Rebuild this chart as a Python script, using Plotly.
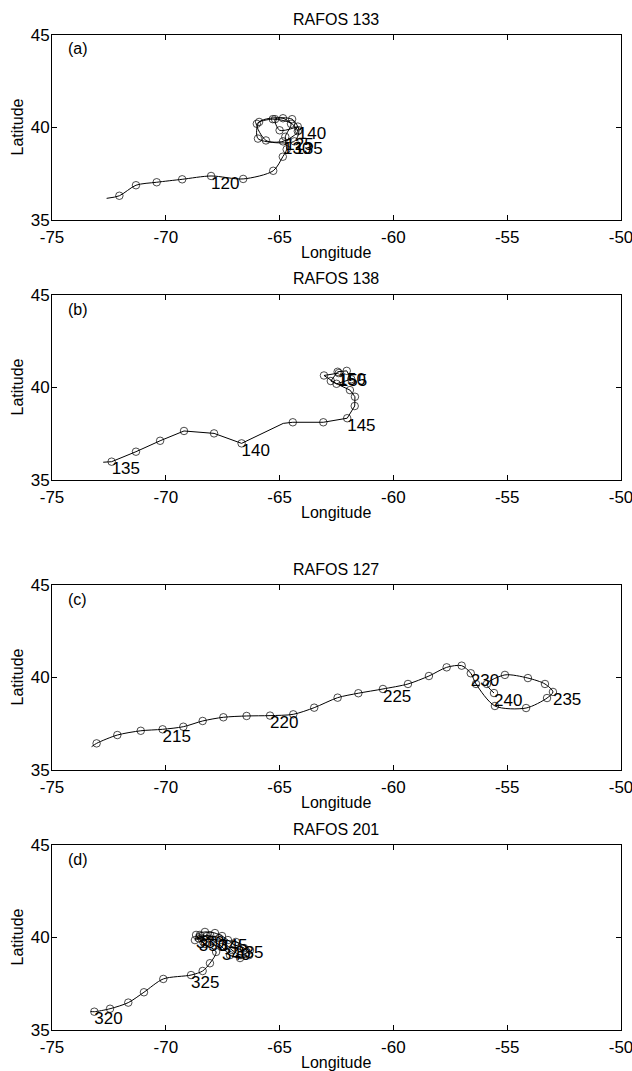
import plotly.graph_objects as go

W, H = 632, 1071
FONT = "Liberation Sans, Arial, Helvetica, sans-serif"

# ---------------- data (lon, lat, day; None = track vertex without a fix) -------------
titles = ["RAFOS 133", "RAFOS 138", "RAFOS 127", "RAFOS 201"]
panel_tags = ["(a)", "(b)", "(c)", "(d)"]

a_lon = [-72.60, -72.04, -71.31, -70.40, -69.28, -68.01, -66.60, -65.28, -64.86, -64.69,
         -64.75, -64.50, -65.30, -66.00, -65.60, -64.85, -64.20, -64.85, -65.90, -65.95,
         -64.35, -64.15, -64.45, -65.20, -65.00, -64.20]
a_lat = [36.17, 36.31, 36.88, 37.04, 37.20, 37.38, 37.22, 37.66, 38.42, 38.82,
         39.50, 40.20, 40.45, 40.20, 39.30, 39.25, 39.80, 40.50, 40.30, 39.40,
         39.25, 39.85, 40.45, 40.45, 39.85, 40.05]
a_day = [None, 116, 117, 118, 119, 120, 121, 122, 123, 124,
         125, 126, 127, 128, 129, 130, 131, 132, 133, 134,
         135, 136, 137, 138, 139, 140]

b_lon = [-72.75, -72.38, -71.31, -70.25, -69.20, -67.88, -66.67, -64.84, -64.42, -63.08,
         -62.03, -61.70, -61.69, -61.91, -62.75, -62.45, -62.05, -61.85, -62.50, -63.05,
         -62.40]
b_lat = [35.96, 35.99, 36.53, 37.12, 37.65, 37.52, 36.98, 38.06, 38.12, 38.12,
         38.34, 39.00, 39.50, 39.86, 40.35, 40.85, 40.90, 40.45, 40.20, 40.65,
         40.78]
b_day = [None, 135, 136, 137, 138, 139, 140, None, 143, 144,
         145, 146, 147, 148, 149, 150, 151, 152, 153, 154,
         155]

c_lon = [-73.26, -73.04, -72.13, -71.10, -70.14, -69.23, -68.38, -67.47, -66.45, -65.42,
         -64.40, -63.48, -62.45, -61.54, -60.46, -59.36, -58.44, -57.66, -57.00, -56.60,
         -56.37, -55.54, -54.17, -53.25, -52.99, -53.34, -54.09, -55.10, -55.89, -55.58]
c_lat = [36.26, 36.44, 36.89, 37.12, 37.20, 37.34, 37.65, 37.85, 37.92, 37.94,
         38.01, 38.37, 38.91, 39.15, 39.38, 39.65, 40.08, 40.55, 40.64, 40.23,
         39.65, 38.46, 38.35, 38.89, 39.22, 39.65, 39.97, 40.14, 39.65, 39.16]
c_day = [None, 212, 213, 214, 215, 216, 217, 218, 219, 220,
         221, 222, 223, 224, 225, 226, 227, 228, 229, 230,
         231, 232, 233, 234, 235, 236, 237, 238, 239, 240]

d_lon = [-73.30, -73.14, -72.45, -71.65, -70.96, -70.11, -68.89, -68.38, -68.06, -67.79,
         -68.28, -68.67, -68.28, -67.84, -67.53, -67.27, -66.96, -66.56, -66.34, -66.74,
         -67.18, -67.53, -67.97, -68.50, -68.72, -68.19, -67.66, -67.09, -66.70, -66.30,
         -66.92, -68.55, -68.05, -68.35]
d_lat = [36.00, 35.99, 36.15, 36.48, 37.04, 37.76, 37.97, 38.19, 38.61, 39.22,
         39.65, 40.14, 40.30, 40.24, 40.08, 39.86, 39.59, 39.43, 39.05, 38.89,
         39.05, 39.49, 39.86, 40.14, 39.86, 40.08, 39.97, 39.32, 39.05, 39.32,
         39.76, 39.95, 40.12, 39.75]
d_day = [None, 320, 321, 322, 323, 324, 325, 326, 327, 328,
         329, 330, 331, 332, 333, 334, 335, 336, 337, 338,
         339, 340, 341, 342, 343, 344, 345, 346, 347, 348,
         349, 350, 351, 352]

x_ticks = [-75, -70, -65, -60, -55, -50]
y_ticks = [35, 40, 45]

panels = [(a_lon, a_lat, a_day, "spline"),
          (b_lon, b_lat, b_day, "linear"),
          (c_lon, c_lat, c_day, "spline"),
          (d_lon, d_lat, d_day, "spline")]

# ---------------- layout geometry (pixels) ----------------
px_left, px_right = 52, 621
tops = [35, 295, 585, 845]
bottoms = [220, 480, 770, 1030]
LBL = 17     # tick / data label font size
TXT = 16     # titles and axis titles


def py(p):
    return 1 - p / H


def pxx(p):
    return p / W


fig = go.Figure()
layout = dict(width=W, height=H, margin=dict(l=0, r=0, t=0, b=0, pad=0, autoexpand=False),
              paper_bgcolor="white", plot_bgcolor="white", showlegend=False,
              font=dict(family=FONT, size=LBL, color="black"))
annotations = []

for i, (lon, lat, day, shape) in enumerate(panels):
    n = "" if i == 0 else str(i + 1)
    xa, ya = "x" + n, "y" + n
    sizes = [7.5 if d is not None else 0 for d in day]
    line = dict(color="black", width=1, shape=shape)
    if shape == "spline":
        line["smoothing"] = 0.8
    fig.add_trace(go.Scatter(x=lon, y=lat, mode="lines+markers", line=line,
                             marker=dict(symbol="circle-open", size=sizes, color="black",
                                         line=dict(width=1, color="black")),
                             xaxis=xa, yaxis=ya, hoverinfo="skip", cliponaxis=False))
    lx = [lon[k] for k in range(len(day)) if day[k] is not None and day[k] % 5 == 0]
    ly = [lat[k] for k in range(len(day)) if day[k] is not None and day[k] % 5 == 0]
    lt = [str(day[k]) for k in range(len(day)) if day[k] is not None and day[k] % 5 == 0]
    fig.add_trace(go.Scatter(x=lx, y=ly, mode="text", text=lt, textposition="bottom right",
                             textfont=dict(family=FONT, size=LBL, color="black"),
                             xaxis=xa, yaxis=ya, hoverinfo="skip", cliponaxis=False))

    axis_common = dict(showline=True, linecolor="black", linewidth=1, mirror="ticks",
                       ticks="inside", ticklen=5, tickcolor="black", showgrid=False,
                       zeroline=False, automargin=False, ticklabeloverflow="allow",
                       tickfont=dict(family=FONT, size=LBL, color="black"))
    layout["xaxis" + n] = dict(axis_common, range=[-75, -50], tickvals=x_ticks,
                               ticktext=[str(v) for v in x_ticks], ticklabelstandoff=2,
                               domain=[pxx(px_left), pxx(px_right)], anchor=ya)
    layout["yaxis" + n] = dict(axis_common, range=[35, 45], tickvals=y_ticks,
                               ticktext=[str(v) for v in y_ticks], ticklabelstandoff=-2,
                               domain=[py(bottoms[i]), py(tops[i])], anchor=xa)

    cx = (px_left + px_right) / 2
    annotations.append(dict(text=titles[i], x=pxx(cx), y=py(tops[i] - 16), xref="paper",
                            yref="paper", showarrow=False, xanchor="center", yanchor="middle",
                            font=dict(family=FONT, size=TXT)))
    annotations.append(dict(text="Longitude", x=pxx(cx), y=py(bottoms[i] + 32), xref="paper",
                            yref="paper", showarrow=False, xanchor="center", yanchor="middle",
                            font=dict(family=FONT, size=TXT)))
    annotations.append(dict(text="Latitude", x=pxx(17), y=py((tops[i] + bottoms[i]) / 2),
                            xref="paper", yref="paper", showarrow=False, textangle=-90,
                            xanchor="center", yanchor="middle", font=dict(family=FONT, size=TXT)))
    annotations.append(dict(text=panel_tags[i], x=pxx(66), y=py(tops[i] + 14), xref="paper",
                            yref="paper", showarrow=False, xanchor="left", yanchor="middle",
                            font=dict(family=FONT, size=TXT)))

layout["annotations"] = annotations
fig.update_layout(**layout)
fig.write_html("out.html")
